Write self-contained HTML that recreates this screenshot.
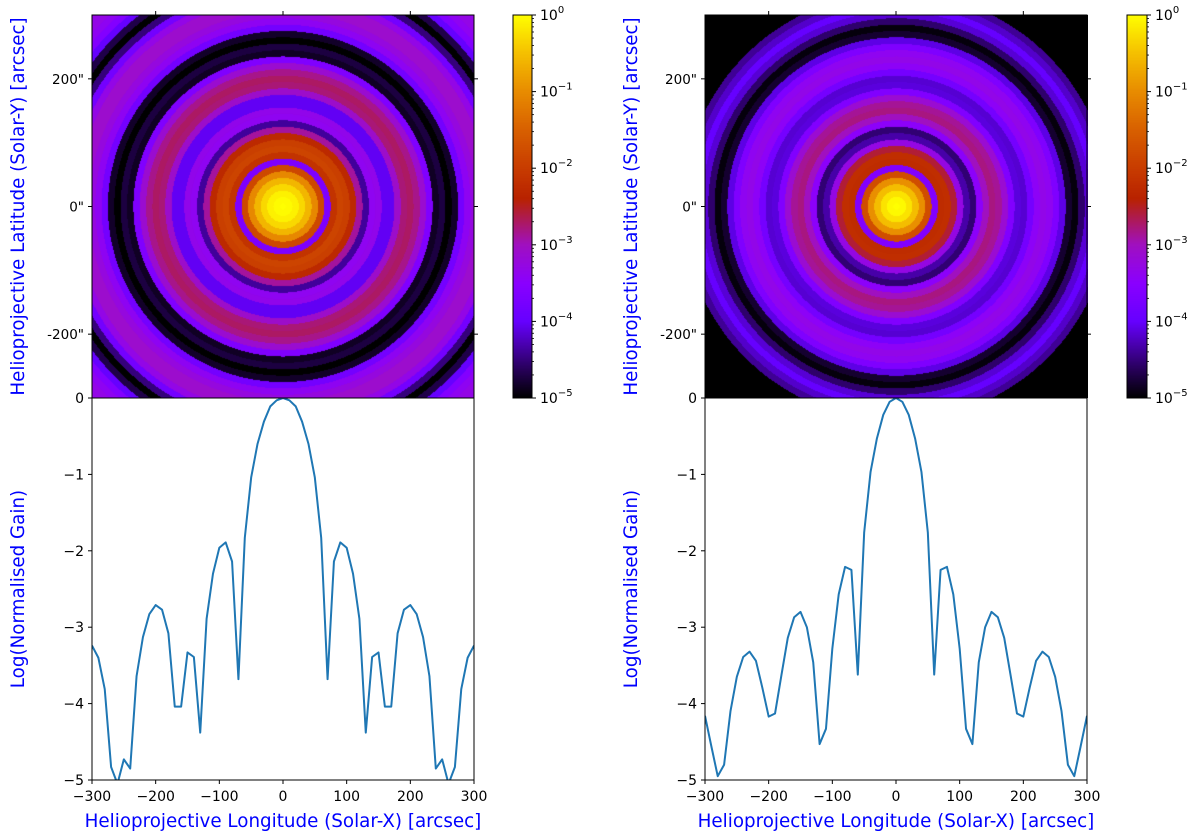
<!DOCTYPE html>
<html><head><meta charset="utf-8">
<style>
html,body{margin:0;padding:0;background:#fff;width:1200px;height:835px;overflow:hidden}
#wrap{position:relative;width:1200px;height:835px}
canvas{position:absolute}
svg{position:absolute;left:0;top:0}
text{font-family:"DejaVu Sans","Liberation Sans",sans-serif}
</style></head>
<body>
<div id="wrap">
<canvas id="imgL" width="382" height="383" style="left:92px;top:15px"></canvas>
<canvas id="imgR" width="383" height="383" style="left:705px;top:15px"></canvas>
<canvas id="cbL" width="19" height="383" style="left:513px;top:15px"></canvas>
<canvas id="cbR" width="20" height="383" style="left:1127px;top:15px"></canvas>
<svg id="svg" width="1200" height="835"></svg>
</div>
<script>
// radial offsets (arcsec) for the profile samples
const positions = [];
for (let i = -300; i <= 300; i += 10) positions.push(i);
const leftHalf = [0,-0.03,-0.11,-0.31,-0.6,-1.04,-1.83,-3.68,-2.14,-1.89,-1.96,-2.3,-2.89,-4.38,-3.39,-3.33,-4.04,-4.04,-3.08,-2.77,-2.71,-2.83,-3.13,-3.64,-4.85,-4.73,-5.05,-4.83,-3.81,-3.4,-3.24];
const rightHalf = [0,-0.05,-0.22,-0.53,-0.97,-1.76,-3.62,-2.25,-2.21,-2.57,-3.28,-4.33,-4.53,-3.46,-3.0,-2.8,-2.87,-3.14,-3.63,-4.13,-4.17,-3.79,-3.44,-3.32,-3.39,-3.65,-4.1,-4.8,-4.95,-4.56,-4.16];
// profile values beyond 300 arcsec (image corners), radius 310..430
const leftOuter = [-3.1,-3.1,-3.3,-3.8,-4.5,-5,-4.7,-4.0,-3.6,-3.4,-3.3,-3.3,-3.4];
const rightOuter = [-4.0,-4.2,-4.4,-9,-9,-9,-9,-9,-9,-9,-9,-9,-9];
const leftSeries = leftHalf.slice(1).reverse().concat(leftHalf);
const rightSeries = rightHalf.slice(1).reverse().concat(rightHalf);
const yTicks = [0,-1,-2,-3,-4,-5];
const xTicks = [-300,-200,-100,0,100,200,300];
const imgTicks = [-200,0,200];
const imgTickLabels = ['-200"','0"','200"'];
const cbExp = [0,-1,-2,-3,-4,-5];

const stops = [[-5,[0,0,0]],[-4.6,[42,0,96]],[-4.3,[74,0,176]],[-4,[102,0,255]],[-3.5,[138,0,255]],[-3,[160,16,192]],[-2.6,[176,28,64]],[-2.4,[184,34,0]],[-2,[200,60,0]],[-1.5,[216,96,0]],[-1,[232,140,0]],[-0.5,[245,192,0]],[0,[255,255,0]]];
function cmap(v){
  if (v<=-5) return [0,0,0];
  if (v>=0) return [255,255,0];
  for (let i=0;i<stops.length-1;i++){
    const a=stops[i],b=stops[i+1];
    if (v>=a[0]&&v<=b[0]){const t=(v-a[0])/(b[0]-a[0]);return a[1].map((c,k)=>Math.round(c+(b[1][k]-c)*t));}
  }
  return [0,0,0];
}
function drawImage(id, half, outer){
  const c=document.getElementById(id), ctx=c.getContext('2d');
  const W=c.width,H=c.height, im=ctx.createImageData(W,H);
  const s=600/W;
  for(let y=0;y<H;y++)for(let x=0;x<W;x++){
    const ax=(x+0.5)*s-300, ay=(y+0.5)*600/H-300;
    const r=Math.sqrt(ax*ax+ay*ay);
    const idx=Math.round(r/10);
    let v = idx<half.length ? half[idx] : outer[Math.min(idx-half.length,outer.length-1)];
    const col=cmap(v), p=(y*W+x)*4;
    im.data[p]=col[0];im.data[p+1]=col[1];im.data[p+2]=col[2];im.data[p+3]=255;
  }
  ctx.putImageData(im,0,0);
}
function drawCb(id){
  const c=document.getElementById(id), ctx=c.getContext('2d');
  for(let y=0;y<c.height;y++){const v=-5*(y+0.5)/c.height;const col=cmap(v);ctx.fillStyle=`rgb(${col})`;ctx.fillRect(0,y,c.width,1);}
}
drawImage('imgL',leftHalf,leftOuter);
drawImage('imgR',rightHalf,rightOuter);
drawCb('cbL');drawCb('cbR');

const NS='http://www.w3.org/2000/svg', svg=document.getElementById('svg');
function el(tag,attrs,parent){const e=document.createElementNS(NS,tag);for(const k in attrs)e.setAttribute(k,attrs[k]);(parent||svg).appendChild(e);return e;}

function panel(px, series, side){
  const L=px, R=px+382, T1=15, B1=398, B2=780;
  const sx=v=>L+(v+300)/600*(R-L);
  const syImg=v=>T1+(300-v)/600*(B1-T1);
  const sy=v=>B1+(-v)/5*(B2-B1);
  const g=el('g',{});
  
  
  const f=el('rect',{x:L,y:T1,width:R-L,height:B1-T1,fill:'none',stroke:'#000','stroke-width':1},g);
  
  
  imgTicks.forEach((t,i)=>{
    const x=sx(t);
    el('line',{x1:x,y1:T1,x2:x,y2:T1-4,stroke:'#000'},g);
    const y=syImg(t);
    el('line',{x1:L,y1:y,x2:L-4,y2:y,stroke:'#000'},g);
    el('line',{x1:R,y1:y,x2:R+4,y2:y,stroke:'#000'},g);
    const tl=el('text',{x:L-8,y:y+5,'text-anchor':'end','font-size':13.5,fill:'#000'},g);
    tl.textContent=imgTickLabels[i];
    
    
  });
  const yl=el('text',{x:0,y:0,transform:`translate(${L-68},${(T1+B1)/2}) rotate(-90)`,'text-anchor':'middle','font-size':18.3,fill:'#0000ff'},g);
  yl.textContent='Helioprojective Latitude (Solar-Y) [arcsec]';
  
  
  const clipId='clip'+side;
  const cp=el('clipPath',{id:clipId},g);
  el('rect',{x:L,y:B1,width:R-L,height:B2-B1},cp);
  let d='';
  series.forEach((v,i)=>{d+=(i?'L':'M')+sx(positions[i]).toFixed(2)+','+sy(v).toFixed(2);});
  const ln=el('path',{d:d,fill:'none',stroke:'#1f77b4','stroke-width':2,'stroke-linejoin':'round','clip-path':`url(#${clipId})`},g);
  
  
  const f2=el('rect',{x:L,y:B1,width:R-L,height:B2-B1,fill:'none',stroke:'#000','stroke-width':1},g);
  
  
  yTicks.forEach(t=>{
    const y=sy(t);
    el('line',{x1:L,y1:y,x2:L-4,y2:y,stroke:'#000'},g);
    const tl=el('text',{x:L-8,y:y+5,'text-anchor':'end','font-size':14,fill:'#000'},g);
    tl.textContent=t===0?'0':'\u2212'+Math.abs(t);
    
    
  });
  xTicks.forEach(t=>{
    const x=sx(t);
    el('line',{x1:x,y1:B2,x2:x,y2:B2+4,stroke:'#000'},g);
    const tl=el('text',{x:x,y:B2+21,'text-anchor':'middle','font-size':14,fill:'#000'},g);
    tl.textContent=t<0?'\u2212'+Math.abs(t):String(t);
    
    
  });
  const xl=el('text',{x:(L+R)/2,y:B2+47,'text-anchor':'middle','font-size':18.3,fill:'#0000ff'},g);
  xl.textContent='Helioprojective Longitude (Solar-X) [arcsec]';
  
  
  const gl=el('text',{x:0,y:0,transform:`translate(${L-68},${(B1+B2)/2}) rotate(-90)`,'text-anchor':'middle','font-size':18.3,fill:'#0000ff'},g);
  gl.textContent='Log(Normalised Gain)';
  
  
}
function colorbar(cx, w, side){
  const T=15,B=398, sy=e=>T+(-e)/5*(B-T);
  const g=el('g',{});
  
  
  el('rect',{x:cx,y:T,width:w,height:B-T,fill:'none',stroke:'#000','stroke-width':1},g);
  cbExp.forEach(e=>{
    const y=sy(e);
    el('line',{x1:cx+w,y1:y,x2:cx+w+4,y2:y,stroke:'#000'},g);
    const t=el('text',{x:cx+w+8,y:y+5,'font-size':14,fill:'#000'},g);
    
    
    const a=el('tspan',{},t);a.textContent='10';
    const b=el('tspan',{dy:-7,'font-size':10},t);b.textContent=e===0?'0':'\u2212'+Math.abs(e);
    if(e>-5){for(let m=2;m<=9;m++){const ym=sy(e-1+Math.log10(m));el('line',{x1:cx+w,y1:ym,x2:cx+w+2,y2:ym,stroke:'#000','stroke-width':0.8},g);}}
  });
}
panel(92, leftSeries, 'left');
panel(705, rightSeries, 'right');
colorbar(513, 19, 'left');
colorbar(1127, 20, 'right');
</script>
</body></html>
